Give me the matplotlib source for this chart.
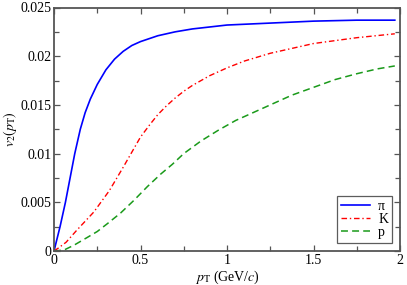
import matplotlib
matplotlib.use("Agg")
import matplotlib.pyplot as plt
from matplotlib.ticker import MultipleLocator, FuncFormatter

plt.rcParams['font.family'] = ['Liberation Serif', 'DejaVu Serif']
plt.rcParams['mathtext.fontset'] = 'stix'
plt.rcParams['lines.scale_dashes'] = False

# Data
pt_pion = [0, 0.035, 0.066, 0.093, 0.12, 0.152, 0.18, 0.21, 0.25, 0.30, 0.35, 0.40, 0.45,
           0.50, 0.60, 0.70, 0.80, 0.90, 1.0, 1.25, 1.5, 1.75, 1.97]
v2_pion = [0, 0.0025, 0.005, 0.0075, 0.0100, 0.0125, 0.0142, 0.0156, 0.0171, 0.0186,
           0.0197, 0.0205, 0.0211, 0.0215, 0.0221, 0.0225, 0.0228, 0.0230, 0.0232,
           0.0234, 0.0236, 0.0237, 0.0237]

pt_kaon = [0, 0.025, 0.07, 0.13, 0.23, 0.32, 0.40, 0.50, 0.555, 0.60, 0.65, 0.70,
           0.75, 0.80, 0.85, 0.90, 0.95, 1.0, 1.1, 1.25, 1.5, 1.75, 1.97]
v2_kaon = [0, 0.0003, 0.0009, 0.0021, 0.0040, 0.0062, 0.0086, 0.0117, 0.0130, 0.0140,
           0.0149, 0.0157, 0.0164, 0.0170, 0.0175, 0.0180, 0.0184, 0.0188, 0.0195,
           0.0203, 0.0213, 0.0219, 0.0223]

pt_prot = [0, 0.058, 0.116, 0.193, 0.25, 0.308, 0.385, 0.462, 0.539, 0.617, 0.684,
           0.75, 0.85, 0.95, 1.05, 1.15, 1.25, 1.375, 1.5, 1.625, 1.75, 1.87, 1.97]
v2_prot = [0, 0.0001, 0.0006, 0.0014, 0.0020, 0.0028, 0.0039, 0.0052, 0.0066, 0.0079,
           0.0089, 0.0100, 0.0113, 0.0124, 0.0134, 0.0142, 0.0150, 0.0160, 0.0168,
           0.0176, 0.0182, 0.0187, 0.0190]

labels = ['π', 'K', 'p']

fig = plt.figure(figsize=(4.07, 2.85), dpi=100)
ax = fig.add_axes([54/407, 1-251/285, 346/407, 243.5/285])

ax.plot(pt_pion, v2_pion, color='#0000ff', lw=1.2, label=labels[0])
ax.plot(pt_kaon, v2_kaon, color='#ff0000', lw=1.0, linestyle=(0, (4, 2, 1, 2)), label=labels[1])
ax.plot(pt_prot, v2_prot, color='#1a9a1a', lw=1.1, linestyle=(0, (5, 3)), label=labels[2])

ax.set_xlim(0, 2)
ax.set_ylim(0, 0.025)
ax.xaxis.set_major_locator(MultipleLocator(0.5))
ax.xaxis.set_minor_locator(MultipleLocator(0.25))
ax.yaxis.set_major_locator(MultipleLocator(0.005))
ax.yaxis.set_minor_locator(MultipleLocator(0.0025))

def fmt(v, pos):
    s = ('%.3f' % v).rstrip('0').rstrip('.')
    return s
ax.xaxis.set_major_formatter(FuncFormatter(fmt))
ax.yaxis.set_major_formatter(FuncFormatter(fmt))

ax.tick_params(which='both', direction='in', top=True, right=True, labelsize=10,
               color='#555555')
ax.tick_params(which='major', length=4.5, width=0.9, pad=2)
ax.tick_params(which='minor', length=3.5, width=0.9)
for s in ax.spines.values():
    s.set_color('#555555')
    s.set_linewidth(1.3)

ax.set_xlabel(r'$p_\mathrm{T}$ (GeV/$c$)', fontsize=10, labelpad=1)
ax.set_ylabel(r'$v_2(p_\mathrm{T})$', fontsize=10, labelpad=1)

leg = ax.legend(loc='lower right', fontsize=10, frameon=True, fancybox=False,
                edgecolor='#333333', handlelength=2.1, handletextpad=0.6,
                borderpad=0.3, labelspacing=0.0, borderaxespad=0.55)
leg.get_frame().set_linewidth(0.9)

fig.savefig('out.png', dpi=100)
